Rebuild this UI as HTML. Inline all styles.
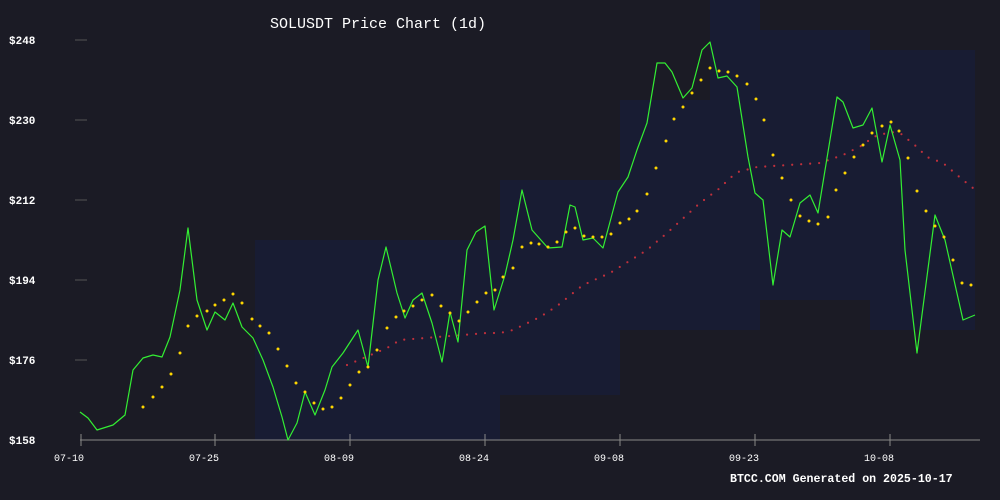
<!DOCTYPE html>
<html><head><meta charset="utf-8"><style>
html,body{margin:0;padding:0;background:#1b1b25;}
svg{display:block}
</style></head><body>
<svg width="1000" height="500" xmlns="http://www.w3.org/2000/svg">
<rect width="1000" height="500" fill="#1b1b25"/>
<g fill="#181c33">
<rect x="255" y="240" width="245" height="200"/>
<rect x="500" y="180" width="120" height="215"/>
<rect x="620" y="100" width="90" height="230"/>
<rect x="710" y="0" width="50" height="330"/>
<rect x="760" y="30" width="110" height="270"/>
<rect x="870" y="50" width="105" height="280"/>
</g>
<g stroke="#888" stroke-width="1">
<line x1="80" y1="440" x2="980" y2="440"/>
<line x1="75" y1="40" x2="87" y2="40" stroke="#555"/>
<line x1="75" y1="120" x2="87" y2="120" stroke="#555"/>
<line x1="75" y1="200" x2="87" y2="200" stroke="#555"/>
<line x1="75" y1="280" x2="87" y2="280" stroke="#555"/>
<line x1="75" y1="360" x2="87" y2="360" stroke="#555"/>
<line x1="81" y1="434" x2="81" y2="446"/><line x1="215" y1="434" x2="215" y2="446"/>
<line x1="350" y1="434" x2="350" y2="446"/><line x1="485" y1="434" x2="485" y2="446"/>
<line x1="620" y1="434" x2="620" y2="446"/><line x1="755" y1="434" x2="755" y2="446"/>
<line x1="890" y1="434" x2="890" y2="446"/>
</g>
<g font-family="Liberation Mono, monospace" font-weight="bold" font-size="11" fill="#fff">
<text x="9" y="44">$248</text><text x="9" y="124">$230</text><text x="9" y="204">$212</text>
<text x="9" y="284">$194</text><text x="9" y="364">$176</text><text x="9" y="444">$158</text>
</g>
<g font-family="Liberation Mono, monospace" font-size="10" fill="#fff" text-anchor="middle">
<text x="69" y="461">07-10</text><text x="204" y="461">07-25</text><text x="339" y="461">08-09</text>
<text x="474" y="461">08-24</text><text x="609" y="461">09-08</text><text x="744" y="461">09-23</text>
<text x="879" y="461">10-08</text>
</g>
<text x="270" y="28" font-family="Liberation Mono, monospace" font-size="15" fill="#fff">SOLUSDT Price Chart (1d)</text>
<text x="730" y="482" font-family="Liberation Mono, monospace" font-weight="bold" font-size="11.6" fill="#fff">BTCC.COM Generated on 2025-10-17</text>
<polyline fill="none" stroke="#c0303c" stroke-width="2.2" stroke-linecap="round" stroke-dasharray="0 9" points="347,365 387,348 400,340 487,333 500,333 513,330 540,317 557,306 583,285 610,273 647,250 667,233 700,203 720,188 730,178 738,172 757,167 820,163 843,155 863,145 873,137 890,132 900,133 917,147 927,157 943,163 963,180 973,188"/>
<polyline fill="none" stroke="#33ee33" stroke-width="1.2" stroke-linejoin="round" points="80,412 88,418 97,430 113,425 125,415 133,370 143,358 153,355 162,357 170,337 180,290 188,228 197,300 207,330 215,312 225,320 233,303 242,327 253,338 263,360 273,387 282,417 288,440 297,423 305,392 315,415 325,390 332,367 343,353 358,330 368,367 378,280 386,247 397,293 405,318 413,300 422,293 432,323 442,362 450,312 458,342 467,250 476,232 485,226 494,310 505,275 513,240 522,190 532,230 548,248 562,247 570,205 575,207 583,240 593,238 603,248 618,192 628,177 637,150 647,123 657,63 665,63 672,72 683,98 692,88 702,50 710,42 718,78 727,76 737,87 748,157 755,193 763,200 773,285 782,230 790,237 800,203 810,195 818,213 837,97 843,102 853,128 863,125 872,108 882,162 890,125 900,160 905,250 917,353 935,215 945,240 963,320 975,315"/>
<g fill="#ffd700">
<circle cx="143" cy="407" r="1.5"/><circle cx="153" cy="397" r="1.5"/><circle cx="162" cy="387" r="1.5"/><circle cx="171" cy="374" r="1.5"/><circle cx="180" cy="353" r="1.5"/><circle cx="188" cy="326" r="1.5"/><circle cx="197" cy="316" r="1.5"/><circle cx="207" cy="311" r="1.5"/><circle cx="215" cy="305" r="1.5"/><circle cx="224" cy="300" r="1.5"/><circle cx="233" cy="294" r="1.5"/><circle cx="242" cy="303" r="1.5"/><circle cx="252" cy="319" r="1.5"/><circle cx="260" cy="326" r="1.5"/><circle cx="269" cy="333" r="1.5"/><circle cx="278" cy="349" r="1.5"/><circle cx="287" cy="366" r="1.5"/><circle cx="296" cy="383" r="1.5"/><circle cx="305" cy="392" r="1.5"/><circle cx="314" cy="403" r="1.5"/><circle cx="323" cy="409" r="1.5"/><circle cx="332" cy="407" r="1.5"/><circle cx="341" cy="398" r="1.5"/><circle cx="350" cy="385" r="1.5"/><circle cx="359" cy="372" r="1.5"/><circle cx="368" cy="367" r="1.5"/><circle cx="377" cy="350" r="1.5"/><circle cx="387" cy="328" r="1.5"/><circle cx="396" cy="317" r="1.5"/><circle cx="404" cy="311" r="1.5"/><circle cx="413" cy="306" r="1.5"/><circle cx="422" cy="300" r="1.5"/><circle cx="432" cy="295" r="1.5"/><circle cx="441" cy="306" r="1.5"/><circle cx="450" cy="313" r="1.5"/><circle cx="459" cy="321" r="1.5"/><circle cx="468" cy="312" r="1.5"/><circle cx="477" cy="302" r="1.5"/><circle cx="486" cy="293" r="1.5"/><circle cx="495" cy="290" r="1.5"/><circle cx="503" cy="277" r="1.5"/><circle cx="513" cy="268" r="1.5"/><circle cx="522" cy="247" r="1.5"/><circle cx="531" cy="243" r="1.5"/><circle cx="539" cy="244" r="1.5"/><circle cx="548" cy="247" r="1.5"/><circle cx="557" cy="242" r="1.5"/><circle cx="566" cy="232" r="1.5"/><circle cx="575" cy="228" r="1.5"/><circle cx="584" cy="236" r="1.5"/><circle cx="593" cy="237" r="1.5"/><circle cx="602" cy="237" r="1.5"/><circle cx="611" cy="234" r="1.5"/><circle cx="620" cy="223" r="1.5"/><circle cx="629" cy="219" r="1.5"/><circle cx="637" cy="211" r="1.5"/><circle cx="647" cy="194" r="1.5"/><circle cx="656" cy="168" r="1.5"/><circle cx="666" cy="141" r="1.5"/><circle cx="674" cy="119" r="1.5"/><circle cx="683" cy="107" r="1.5"/><circle cx="692" cy="93" r="1.5"/><circle cx="701" cy="80" r="1.5"/><circle cx="710" cy="68" r="1.5"/><circle cx="719" cy="71" r="1.5"/><circle cx="728" cy="72" r="1.5"/><circle cx="737" cy="76" r="1.5"/><circle cx="747" cy="84" r="1.5"/><circle cx="756" cy="99" r="1.5"/><circle cx="764" cy="120" r="1.5"/><circle cx="773" cy="155" r="1.5"/><circle cx="782" cy="178" r="1.5"/><circle cx="791" cy="200" r="1.5"/><circle cx="800" cy="216" r="1.5"/><circle cx="809" cy="221" r="1.5"/><circle cx="818" cy="224" r="1.5"/><circle cx="828" cy="217" r="1.5"/><circle cx="836" cy="190" r="1.5"/><circle cx="845" cy="173" r="1.5"/><circle cx="854" cy="157" r="1.5"/><circle cx="863" cy="145" r="1.5"/><circle cx="872" cy="133" r="1.5"/><circle cx="882" cy="126" r="1.5"/><circle cx="891" cy="122" r="1.5"/><circle cx="899" cy="131" r="1.5"/><circle cx="908" cy="158" r="1.5"/><circle cx="917" cy="191" r="1.5"/><circle cx="926" cy="211" r="1.5"/><circle cx="935" cy="226" r="1.5"/><circle cx="944" cy="237" r="1.5"/><circle cx="953" cy="260" r="1.5"/><circle cx="962" cy="283" r="1.5"/><circle cx="971" cy="285" r="1.5"/>
</g>
</svg>
</body></html>
